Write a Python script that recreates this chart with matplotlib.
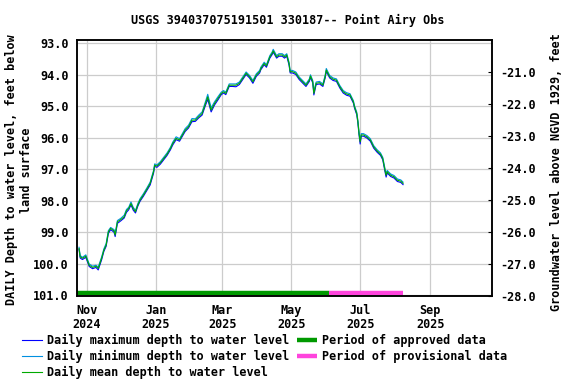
import pandas as pd
import matplotlib.pyplot as plt
import matplotlib.dates as mdates

# Readings picked off the hydrograph (depth to water, feet below land surface)
dates = [
    "2024-10-25", "2024-10-26", "2024-10-28", "2024-10-31", "2024-11-03", "2024-11-06",
    "2024-11-09", "2024-11-11", "2024-11-12", "2024-11-14", "2024-11-16", "2024-11-18",
    "2024-11-20", "2024-11-22", "2024-11-25", "2024-11-26", "2024-11-28", "2024-12-01",
    "2024-12-04", "2024-12-06", "2024-12-08", "2024-12-10", "2024-12-12", "2024-12-14",
    "2024-12-16", "2024-12-18", "2024-12-21", "2024-12-24", "2024-12-27", "2024-12-30",
    "2024-12-31", "2025-01-02", "2025-01-05", "2025-01-08", "2025-01-11", "2025-01-14",
    "2025-01-16", "2025-01-19", "2025-01-22", "2025-01-27", "2025-01-30", "2025-02-02",
    "2025-02-05", "2025-02-08", "2025-02-11", "2025-02-14", "2025-02-16", "2025-02-19",
    "2025-02-22", "2025-02-25", "2025-02-28", "2025-03-02", "2025-03-04", "2025-03-07",
    "2025-03-10", "2025-03-13", "2025-03-16", "2025-03-19", "2025-03-22", "2025-03-25",
    "2025-03-28", "2025-03-31", "2025-04-03", "2025-04-04", "2025-04-07", "2025-04-09",
    "2025-04-12", "2025-04-14", "2025-04-15", "2025-04-18", "2025-04-20", "2025-04-23",
    "2025-04-25", "2025-04-27", "2025-04-29", "2025-04-30", "2025-05-02", "2025-05-05",
    "2025-05-08", "2025-05-11", "2025-05-14", "2025-05-17", "2025-05-18", "2025-05-20",
    "2025-05-21", "2025-05-23", "2025-05-26", "2025-05-29", "2025-05-31", "2025-06-01",
    "2025-06-04", "2025-06-07", "2025-06-10", "2025-06-13", "2025-06-16", "2025-06-19",
    "2025-06-22", "2025-06-25", "2025-06-26", "2025-06-28", "2025-06-29", "2025-06-30",
    "2025-07-01", "2025-07-02", "2025-07-04", "2025-07-07", "2025-07-10", "2025-07-13",
    "2025-07-16", "2025-07-19", "2025-07-21", "2025-07-23", "2025-07-24", "2025-07-25",
    "2025-07-28", "2025-07-31", "2025-08-03", "2025-08-06", "2025-08-08",
]
depth_mean = [
    99.52, 99.78, 99.83, 99.76, 100.05, 100.12, 100.08, 100.15, 100.05, 99.83, 99.57, 99.41,
    98.99, 98.88, 98.96, 99.09, 98.67, 98.60, 98.51, 98.32, 98.25, 98.09, 98.25, 98.35,
    98.14, 97.98, 97.82, 97.64, 97.45, 97.08, 96.87, 96.90, 96.80, 96.66, 96.52, 96.34,
    96.18, 96.02, 96.07, 95.76, 95.65, 95.44, 95.44, 95.33, 95.23, 94.91, 94.70, 95.12,
    94.91, 94.75, 94.59, 94.54, 94.59, 94.33, 94.33, 94.33, 94.27, 94.11, 93.95, 94.06,
    94.22, 94.01, 93.90, 93.80, 93.64, 93.72, 93.43, 93.32, 93.24, 93.43, 93.37, 93.37,
    93.43, 93.37, 93.64, 93.90, 93.90, 93.95, 94.11, 94.22, 94.33, 94.17, 94.04, 94.22,
    94.59, 94.27, 94.25, 94.33, 94.06, 93.85, 94.06, 94.14, 94.17, 94.38, 94.54, 94.61,
    94.64, 94.86, 95.02, 95.23, 95.49, 95.86, 96.13, 95.91, 95.91, 95.97, 96.07, 96.29,
    96.42, 96.52, 96.66, 97.03, 97.19, 97.08, 97.19, 97.24, 97.35, 97.38, 97.45,
]
depth_max = [
    99.55, 99.82, 99.87, 99.80, 100.09, 100.16, 100.12, 100.20, 100.09, 99.88, 99.61, 99.45,
    99.04, 98.92, 99.00, 99.14, 98.72, 98.64, 98.55, 98.37, 98.29, 98.13, 98.30, 98.39,
    98.18, 98.02, 97.86, 97.68, 97.50, 97.13, 96.91, 96.94, 96.84, 96.70, 96.56, 96.38,
    96.23, 96.06, 96.11, 95.80, 95.69, 95.49, 95.48, 95.37, 95.28, 94.97, 94.78, 95.18,
    94.96, 94.80, 94.63, 94.58, 94.63, 94.37, 94.37, 94.38, 94.31, 94.15, 93.99, 94.10,
    94.27, 94.05, 93.94, 93.84, 93.68, 93.76, 93.47, 93.36, 93.28, 93.47, 93.41, 93.41,
    93.47, 93.41, 93.69, 93.94, 93.94, 93.99, 94.15, 94.26, 94.37, 94.21, 94.08, 94.26,
    94.64, 94.31, 94.29, 94.37, 94.10, 93.89, 94.10, 94.18, 94.21, 94.42, 94.58, 94.65,
    94.68, 94.90, 95.06, 95.27, 95.54, 95.91, 96.20, 95.95, 95.95, 96.01, 96.11, 96.33,
    96.46, 96.56, 96.70, 97.08, 97.25, 97.12, 97.23, 97.28, 97.39, 97.42, 97.49,
]
depth_min = [
    99.48, 99.74, 99.80, 99.72, 100.01, 100.08, 100.05, 100.11, 100.00, 99.79, 99.53, 99.36,
    98.95, 98.85, 98.92, 99.04, 98.63, 98.56, 98.46, 98.28, 98.21, 98.04, 98.21, 98.31,
    98.10, 97.94, 97.78, 97.60, 97.41, 97.04, 96.83, 96.86, 96.76, 96.62, 96.48, 96.30,
    96.14, 95.97, 96.03, 95.71, 95.60, 95.39, 95.40, 95.28, 95.18, 94.85, 94.62, 95.05,
    94.86, 94.70, 94.55, 94.50, 94.55, 94.29, 94.29, 94.29, 94.23, 94.07, 93.91, 94.02,
    94.18, 93.97, 93.86, 93.76, 93.60, 93.68, 93.39, 93.28, 93.19, 93.39, 93.33, 93.33,
    93.39, 93.33, 93.60, 93.86, 93.86, 93.91, 94.07, 94.18, 94.29, 94.13, 94.00, 94.18,
    94.52, 94.23, 94.21, 94.29, 94.01, 93.80, 94.02, 94.10, 94.13, 94.34, 94.50, 94.57,
    94.60, 94.82, 94.98, 95.19, 95.45, 95.82, 96.06, 95.87, 95.87, 95.93, 96.03, 96.25,
    96.38, 96.48, 96.62, 96.98, 97.13, 97.04, 97.15, 97.20, 97.31, 97.34, 97.41,
]

approved_period = ["2024-10-23", "2025-06-03"]
provisional_period = ["2025-06-03", "2025-08-08"]

depth_ticks = [93.0, 94.0, 95.0, 96.0, 97.0, 98.0, 99.0, 100.0, 101.0]
elev_ticks = [-21.0, -22.0, -23.0, -24.0, -25.0, -26.0, -27.0, -28.0]
month_ticks = ["2024-11-01", "2025-01-01", "2025-03-01", "2025-05-01", "2025-07-01", "2025-09-01"]
month_labels = ["Nov\n2024", "Jan\n2025", "Mar\n2025", "May\n2025", "Jul\n2025", "Sep\n2025"]

t = pd.to_datetime(dates)
fs = 8.5
font = {'family': 'DejaVu Sans Mono', 'weight': 'bold', 'size': fs}
plt.rcParams['font.family'] = 'DejaVu Sans Mono'
plt.rcParams['font.weight'] = 'bold'

fig = plt.figure(figsize=(5.76, 3.84), dpi=100)
ax = fig.add_axes([0.1337, 0.229, 0.7205, 0.668])

ax.plot(t, depth_max, color='#0000ff', linewidth=0.8, label='Daily maximum depth to water level')
ax.plot(t, depth_min, color='#0090e0', linewidth=0.8, label='Daily minimum depth to water level')
ax.plot(t, depth_mean, color='#00aa00', linewidth=0.8, label='Daily mean depth to water level')
ax.plot(pd.to_datetime(approved_period), [100.92, 100.92], color='#009900', linewidth=3.2,
        solid_capstyle='butt', label='Period of approved data')
ax.plot(pd.to_datetime(provisional_period), [100.92, 100.92], color='#ff44dd', linewidth=3.2,
        solid_capstyle='butt', label='Period of provisional data')

ax.set_xlim(pd.Timestamp("2024-10-23 05:00"), pd.Timestamp("2025-10-25 19:00"))
ax.set_ylim(101.03, 92.88)
ax.set_yticks(depth_ticks)
ax.set_yticklabels([f"{v:.1f}" for v in depth_ticks], fontdict=font)
ax.set_xticks(pd.to_datetime(month_ticks))
ax.set_xticklabels(month_labels, fontdict=font, linespacing=1.05)
ax.tick_params(axis='y', direction='in', length=0, pad=6)
ax.tick_params(axis='x', direction='in', length=0, pad=6)
ax.grid(True, color='#cccccc', linewidth=0.9)
ax.set_axisbelow(True)
for s in ax.spines.values():
    s.set_linewidth(1.1)

ax2 = ax.twinx()
ax2.set_ylim(-27.98, -20.0)
ax2.set_yticks(elev_ticks)
ax2.set_yticklabels([f"{v:.1f}" for v in elev_ticks], fontdict=font)
ax2.tick_params(axis='y', direction='in', length=3, pad=6)
for s in ax2.spines.values():
    s.set_linewidth(1.1)

fig.text(0.5, 1 - 20 / 384, 'USGS 394037075191501 330187-- Point Airy Obs',
         ha='center', va='center', fontdict=font)
fig.text(19 / 576, 1 - 170 / 384, 'DAILY Depth to water level, feet below\nland surface',
         rotation=90, ha='center', va='center', multialignment='center',
         fontdict=font, linespacing=1.1)
fig.text(557 / 576, 1 - 172 / 384, 'Groundwater level above NGVD 1929, feet',
         rotation=90, ha='center', va='center', fontdict=font)

fig.legend(loc='upper left', bbox_to_anchor=(22 / 576, 1 - 334 / 384), ncol=2,
           frameon=False, prop=font, handlelength=1.7, handletextpad=0.45,
           columnspacing=0.6, labelspacing=0.25, borderpad=0, borderaxespad=0)

fig.savefig('out.png', dpi=100)
